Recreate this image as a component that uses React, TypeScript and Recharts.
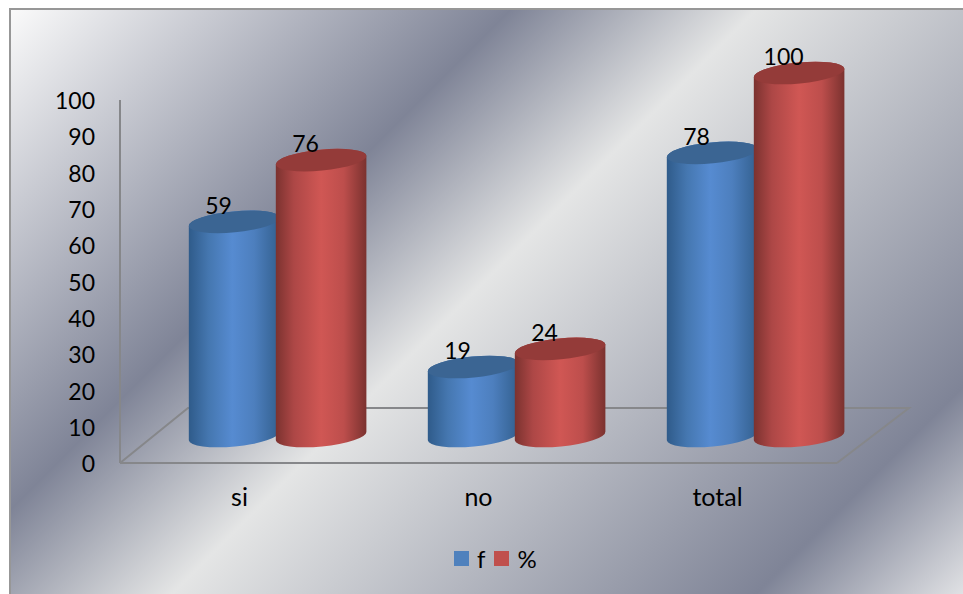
import { Bar, BarChart, LabelList, Legend, XAxis, YAxis, usePlotArea } from 'recharts'

const categories = ['si', 'no', 'total']
const frequency = [59, 19, 78]
const percent = [76, 24, 100]
const yTicks = [0, 10, 20, 30, 40, 50, 60, 70, 80, 90, 100]

const rows = categories.map((name, i) => ({ name, f: frequency[i], pct: percent[i] }))

const FONT = 'Lato, sans-serif'
const AXIS_GREY = '#86878a'
const BACKDROP =
  'linear-gradient(135deg, #fafafa 0%, #7f8497 32.5%, #e4e5e5 48.5%, #7f8497 86.5%, #e0e1e4 100%)'

// cylinders stand in the middle of the floor, pushed back from the front edge
const DEPTH_X = 37.6
const DEPTH_Y = -27
const TILT = -5.5
const RY = 10.5

// floor drawn behind the bars, front edge comes from the x axis line
function Floor() {
  const plot = usePlotArea()
  if (!plot) return null
  const { x, y, width, height } = plot
  const bottom = y + height
  const right = x + width
  return (
    <polyline
      points={`${x},${bottom} ${x + 68},${bottom - 55} ${right + 72},${bottom - 55} ${right},${bottom}`}
      fill="none"
      stroke={AXIS_GREY}
      strokeWidth={2}
    />
  )
}

function Cylinder({ x, y, width, height, gradient, cap }: any) {
  const rx = width / 2
  const cx = x + rx + DEPTH_X
  const topY = y + DEPTH_Y
  const botY = y + height + DEPTH_Y
  const rad = (TILT * Math.PI) / 180
  const dx = rx * Math.cos(rad)
  const dy = rx * Math.sin(rad)
  const body =
    `M${cx - dx},${topY - dy} L${cx - dx},${botY - dy} ` +
    `A${rx},${RY} ${TILT} 0 0 ${cx + dx},${botY + dy} ` +
    `L${cx + dx},${topY + dy} A${rx},${RY} ${TILT} 0 0 ${cx - dx},${topY - dy} Z`
  return (
    <g>
      <path d={body} fill={`url(#${gradient})`} />
      <ellipse cx={cx} cy={topY} rx={rx} ry={RY} fill={cap} transform={`rotate(${TILT} ${cx} ${topY})`} />
    </g>
  )
}

function ValueLabel({ x, y, value }: any) {
  return (
    <text
      x={x + DEPTH_X + 30}
      y={y + DEPTH_Y - 17}
      textAnchor="middle"
      dominantBaseline="central"
      fontFamily={FONT}
      fontSize={23}
      fill="#000"
    >
      {value}
    </text>
  )
}

function LegendRow({ payload }: any) {
  return (
    <div style={{ display: 'flex', alignItems: 'center', height: 22, fontFamily: FONT, fontSize: 24, color: '#000' }}>
      {(payload ?? []).map((item: any) => (
        <div key={item.value} style={{ display: 'flex', alignItems: 'center', marginRight: 9 }}>
          <span style={{ width: 15, height: 15, background: item.color, marginRight: 8 }} />
          <span>{item.value}</span>
        </div>
      ))}
    </div>
  )
}

export default function App() {
  return (
    <div style={{ position: 'fixed', left: 0, top: 0, width: 963, height: 594, background: '#fff', overflow: 'hidden' }}>
      <div
        style={{
          position: 'absolute',
          left: 9,
          top: 8,
          width: 954,
          height: 586,
          boxSizing: 'border-box',
          borderLeft: '2px solid #979797',
          borderTop: '2px solid #979797',
          background: BACKDROP,
        }}
      />
      <div style={{ position: 'absolute', left: 0, top: 0 }}>
        <BarChart
          width={963}
          height={594}
          data={rows}
          margin={{ top: 100, right: 126, bottom: 101, left: 0 }}
          barSize={91}
          barGap={-4}
          barCategoryGap={0}
        >
          <defs>
            <linearGradient id="blueBody" x1="0" y1="0" x2="1" y2="0">
              <stop offset="0%" stopColor="#2f5b8a" />
              <stop offset="22%" stopColor="#4577b0" />
              <stop offset="48%" stopColor="#568bd1" />
              <stop offset="72%" stopColor="#4d7fbe" />
              <stop offset="100%" stopColor="#33608f" />
            </linearGradient>
            <linearGradient id="redBody" x1="0" y1="0" x2="1" y2="0">
              <stop offset="0%" stopColor="#7b322f" />
              <stop offset="20%" stopColor="#ad4746" />
              <stop offset="50%" stopColor="#d05754" />
              <stop offset="75%" stopColor="#bd4e4c" />
              <stop offset="100%" stopColor="#7b322f" />
            </linearGradient>
          </defs>
          <Floor />
          <XAxis
            dataKey="name"
            height={30}
            axisLine={{ stroke: AXIS_GREY, strokeWidth: 2 }}
            tickLine={false}
            tick={{ fill: '#000', fontSize: 25, fontFamily: FONT }}
            tickMargin={19}
          />
          <YAxis
            domain={[0, 100]}
            ticks={yTicks}
            interval={0}
            width={120}
            axisLine={{ stroke: AXIS_GREY, strokeWidth: 2 }}
            tickLine={false}
            tick={{ fill: '#000', fontSize: 23, fontFamily: FONT, dy: 1 }}
            tickMargin={19}
          />
          <Legend
            layout="horizontal"
            align="center"
            verticalAlign="middle"
            itemSorter="dataKey"
            wrapperStyle={{ left: 454, top: 547, width: 110, margin: 0 }}
            content={<LegendRow />}
          />
          <Bar
            dataKey="f"
            name="f"
            fill="#4f81bd"
            isAnimationActive={false}
            shape={(p: any) => <Cylinder {...p} gradient="blueBody" cap="#3b6593" />}
          >
            <LabelList dataKey="f" content={<ValueLabel />} />
          </Bar>
          <Bar
            dataKey="pct"
            name="%"
            fill="#c0504d"
            isAnimationActive={false}
            shape={(p: any) => <Cylinder {...p} gradient="redBody" cap="#943b39" />}
          >
            <LabelList dataKey="pct" content={<ValueLabel />} />
          </Bar>
        </BarChart>
      </div>
    </div>
  )
}
